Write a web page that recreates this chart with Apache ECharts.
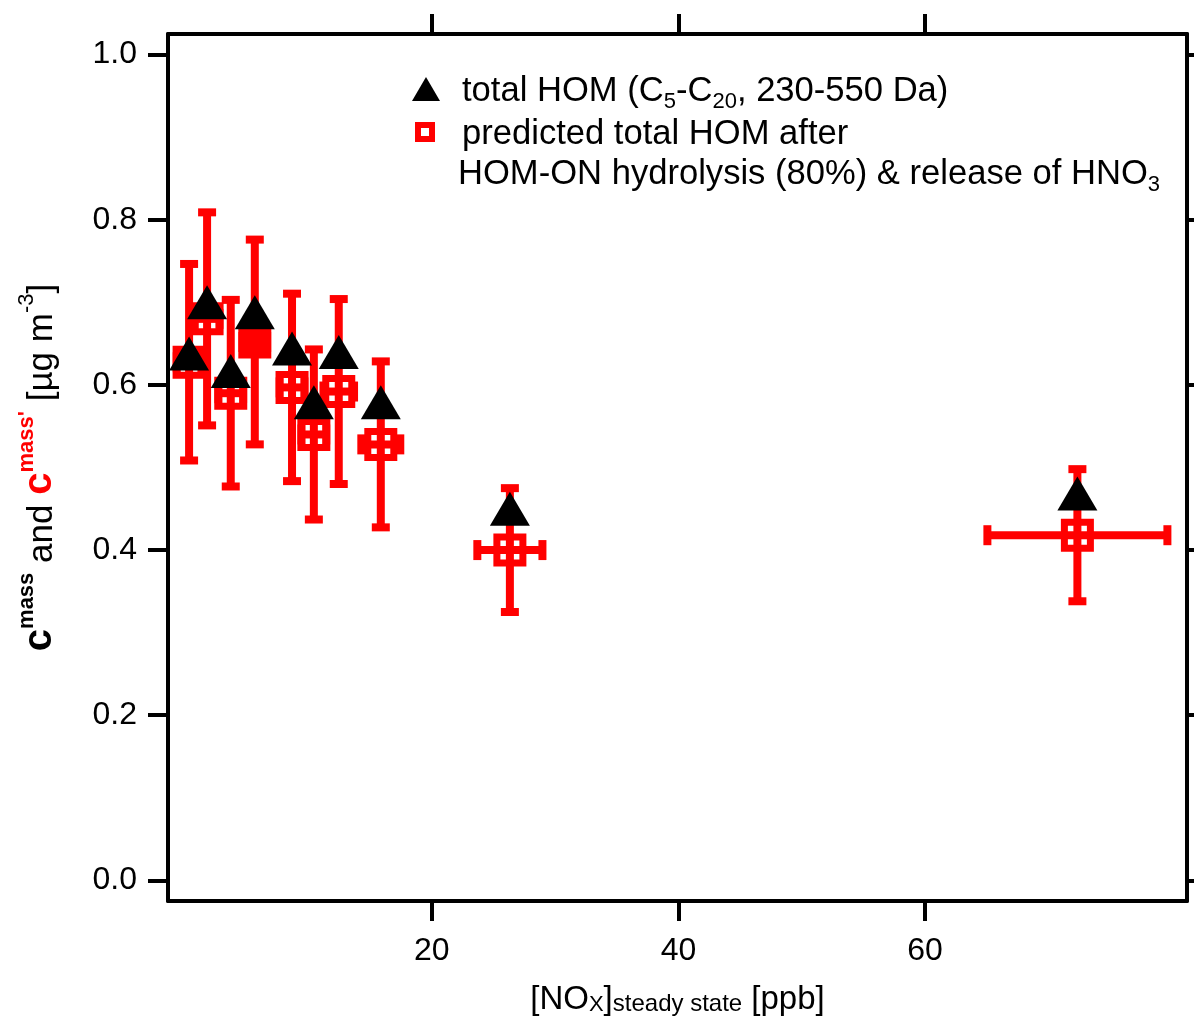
<!DOCTYPE html>
<html>
<head>
<meta charset="utf-8">
<script src="https://cdn.jsdelivr.net/npm/echarts@6/dist/echarts.min.js"></script>
<style>html,body{margin:0;padding:0;background:#fff}#c{width:1194px;height:1018px}</style>
</head>
<body>
<div id="c"></div>
<script>
// ---- data ----
const noxX        = [0.31, 1.77, 3.69, 5.64, 8.66, 10.43, 12.45, 15.86, 26.33, 72.36];
const noxXErr     = [1.0, 1.0, 1.0, 1.0, 1.0, 1.0, 1.24, 1.58, 2.64, 7.3];
const homMeasured = [0.638, 0.700, 0.617, 0.688, 0.644, 0.579, 0.640, 0.579, 0.450, 0.4685];
const homPredicted= [0.6275, 0.680, 0.590, 0.652, 0.597, 0.540, 0.592, 0.528, 0.400, 0.418];
const homPredErr  = [0.119, 0.129, 0.113, 0.124, 0.1135, 0.103, 0.112, 0.1005, 0.075, 0.08];
const xTicks = [20, 40, 60];
const yTicks = [0, 0.2, 0.4, 0.6, 0.8, 1.0];

const FONT = "'Liberation Sans', Arial, Helvetica, sans-serif";
const RED = '#ff0000';

const chart = echarts.init(document.getElementById('c'), null, {renderer: 'canvas'});

const measuredData = noxX.map((x, i) => [x, homMeasured[i]]);
const predictedData = noxX.map((x, i) => {
  const item = {value: [x, homPredicted[i]]};
  if (i === 3) item.itemStyle = {color: RED};
  return item;
});
const errData = noxX.map((x, i) => [x, homPredicted[i], noxXErr[i], homPredErr[i]]);

function renderErr(params, api) {
  const x = api.value(0), y = api.value(1), xe = api.value(2), ye = api.value(3);
  const c = api.coord([x, y]);
  const top = api.coord([x, y + ye])[1];
  const bot = api.coord([x, y - ye])[1];
  const left = api.coord([x - xe, y])[0];
  const right = api.coord([x + xe, y])[0];
  const lw = 8, capH = 9, capV = 10;
  const st = {fill: RED};
  return {
    type: 'group',
    children: [
      {type: 'rect', shape: {x: c[0] - lw / 2, y: top, width: lw, height: bot - top}, style: st},
      {type: 'rect', shape: {x: left, y: c[1] - lw / 2, width: right - left, height: lw}, style: st},
      {type: 'rect', shape: {x: c[0] - capH, y: top - lw / 2, width: capH * 2, height: lw}, style: st},
      {type: 'rect', shape: {x: c[0] - capH, y: bot - lw / 2, width: capH * 2, height: lw}, style: st},
      {type: 'rect', shape: {x: left - lw / 2, y: c[1] - capV, width: lw, height: capV * 2}, style: st},
      {type: 'rect', shape: {x: right - lw / 2, y: c[1] - capV, width: lw, height: capV * 2}, style: st}
    ]
  };
}

const axisLine = {show: true, onZero: false, lineStyle: {color: '#000', width: 4}};
const tickStyle = {show: true, length: 20, lineStyle: {color: '#000', width: 4}};

const mainTok = {fontFamily: FONT, fontSize: 34.6, fontWeight: 'normal', lineHeight: 40, verticalAlign: 'bottom', color: '#000'};
const subTok = {fontFamily: FONT, fontSize: 22, fontWeight: 'normal', lineHeight: 19, verticalAlign: 'top', padding: [22, 0, 0, 0], color: '#000'};

const option = {
  backgroundColor: '#fff',
  animation: false,
  grid: {left: 168, right: 7, top: 34, bottom: 117, containLabel: false, outerBoundsMode: 'none'},
  title: {
    text: '{m|HOM-ON hydrolysis (80%) & release of HNO}{s|3}',
    left: 458, top: 152, padding: 0,
    textStyle: {fontWeight: 'normal', rich: {m: mainTok, s: subTok}}
  },
  legend: [
    {
      data: ['total HOM'],
      left: 412, top: 69, padding: 0,
      orient: 'vertical',
      itemWidth: 28, itemHeight: 24,
      selectedMode: false,
      formatter: () => '{p| }{m|total HOM (C}{s|5}{m|-C}{s|20}{m|, 230-550 Da)}',
      textStyle: {color: '#000', rich: {p: {width: 17, fontSize: 34, lineHeight: 40}, m: mainTok, s: subTok}}
    },
    {
      data: ['predicted total HOM'],
      left: 415, top: 115, padding: 0,
      orient: 'vertical',
      itemWidth: 14, itemHeight: 14,
      selectedMode: false,
      itemStyle: {color: '#fff', borderColor: RED, borderWidth: 6},
      formatter: () => '{p| }{m|predicted total HOM after}',
      textStyle: {color: '#000', rich: {p: {width: 25, fontSize: 34, lineHeight: 40}, m: mainTok}}
    }
  ],
  xAxis: [
    {
      type: 'value', position: 'bottom', min: -1.4, max: 81.25,
      axisLine: axisLine,
      axisTick: Object.assign({customValues: xTicks}, tickStyle),
      axisLabel: {customValues: xTicks, fontFamily: FONT, fontSize: 32, color: '#000', margin: 34},
      splitLine: {show: false},
      name: '{m|[NO}{s|X}{m|]}{ss|steady state}{m| [ppb]}',
      nameLocation: 'middle', nameGap: 75,
      nameTextStyle: {rich: {
        m: {fontFamily: FONT, fontSize: 33, lineHeight: 40, verticalAlign: 'bottom', color: '#000'},
        s: {fontFamily: FONT, fontSize: 22, lineHeight: 26, verticalAlign: 'bottom', color: '#000'},
        ss: {fontFamily: FONT, fontSize: 24, lineHeight: 29, verticalAlign: 'bottom', color: '#000'}
      }}
    },
    {
      type: 'value', position: 'top', min: -1.4, max: 81.25,
      axisLine: axisLine,
      axisTick: Object.assign({customValues: xTicks}, tickStyle),
      axisLabel: {show: false},
      splitLine: {show: false}
    }
  ],
  yAxis: [
    {
      type: 'value', position: 'left', min: -0.025, max: 1.025,
      axisLine: axisLine,
      axisTick: Object.assign({customValues: yTicks}, tickStyle),
      axisLabel: {customValues: yTicks, fontFamily: FONT, fontSize: 32, color: '#000', margin: 31,
        formatter: v => v.toFixed(1)},
      splitLine: {show: false},
      name: "{c|c}{sup|mass}{n| and }{cr|c}{supr|mass'}{n| [µg m}{sup3|-3}{n|]}",
      nameLocation: 'middle', nameGap: 108, nameRotate: 90,
      nameTextStyle: {rich: {
        c: {fontFamily: FONT, fontSize: 40, fontWeight: 'bold', lineHeight: 44, verticalAlign: 'bottom', color: '#000'},
        cr: {fontFamily: FONT, fontSize: 40, fontWeight: 'bold', lineHeight: 44, verticalAlign: 'bottom', color: RED},
        sup: {fontFamily: FONT, fontSize: 22, fontWeight: 'bold', lineHeight: 24, verticalAlign: 'top', color: '#000'},
        supr: {fontFamily: FONT, fontSize: 22, fontWeight: 'bold', lineHeight: 24, verticalAlign: 'top', color: RED},
        sup3: {fontFamily: FONT, fontSize: 22, lineHeight: 24, verticalAlign: 'top', color: '#000'},
        n: {fontFamily: FONT, fontSize: 35, lineHeight: 44, verticalAlign: 'bottom', color: '#000'}
      }}
    },
    {
      type: 'value', position: 'right', min: -0.025, max: 1.025,
      axisLine: axisLine,
      axisTick: Object.assign({customValues: yTicks}, tickStyle),
      axisLabel: {show: false},
      splitLine: {show: false}
    }
  ],
  series: [
    {
      name: 'predicted total HOM', type: 'scatter', z: 2,
      symbol: 'rect', symbolSize: 26,
      itemStyle: {color: '#fff', borderColor: RED, borderWidth: 7, opacity: 1},
      data: predictedData
    },
    {
      name: 'errors', type: 'custom', z: 3,
      renderItem: renderErr,
      encode: {x: 0, y: 1},
      data: errData,
      clip: false
    },
    {
      name: 'total HOM', type: 'scatter', z: 4,
      symbol: 'triangle', symbolSize: [40, 34],
      itemStyle: {color: '#000', opacity: 1},
      data: measuredData
    }
  ]
};
chart.setOption(option);
</script>
</body>
</html>
